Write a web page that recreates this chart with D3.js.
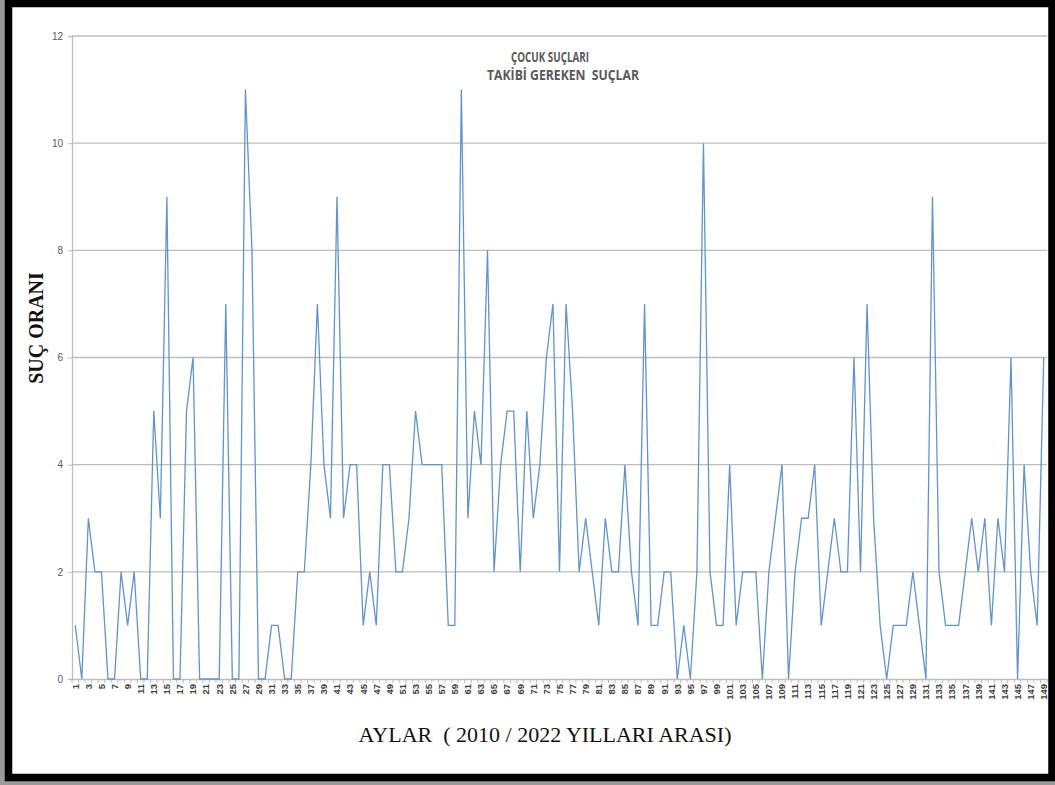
<!DOCTYPE html>
<html lang="tr">
<head>
<meta charset="utf-8">
<script src="https://cdn.jsdelivr.net/npm/d3@7"></script>
<style>
  body { margin: 0; background: #fff; }
  svg { display: block; }
</style>
</head>
<body>
<script>
  // monthly values, months 1..149
  var values = [1, 0, 3, 2, 2, 0, 0, 2, 1, 2,
    0, 0, 5, 3, 9, 0, 0, 5, 6, 0,
    0, 0, 0, 7, 0, 0, 11, 8, 0, 0,
    1, 1, 0, 0, 2, 2, 4, 7, 4, 3,
    9, 3, 4, 4, 1, 2, 1, 4, 4, 2,
    2, 3, 5, 4, 4, 4, 4, 1, 1, 11,
    3, 5, 4, 8, 2, 4, 5, 5, 2, 5,
    3, 4, 6, 7, 2, 7, 5, 2, 3, 2,
    1, 3, 2, 2, 4, 2, 1, 7, 1, 1,
    2, 2, 0, 1, 0, 2, 10, 2, 1, 1,
    4, 1, 2, 2, 2, 0, 2, 3, 4, 0,
    2, 3, 3, 4, 1, 2, 3, 2, 2, 6,
    2, 7, 3, 1, 0, 1, 1, 1, 2, 1,
    0, 9, 2, 1, 1, 1, 2, 3, 2, 3,
    1, 3, 2, 6, 0, 4, 2, 1, 6];
  var months = d3.range(1, values.length + 1);
  var monthLabels = months.filter(function(d) { return d % 2 === 1; });
  var yTicks = [0, 2, 4, 6, 8, 10, 12];
  var titleLines = ["ÇOCUK SUÇLARI", "TAKİBİ GEREKEN  SUÇLAR"];
  var xTitle = "AYLAR  ( 2010 / 2022 YILLARI ARASI)";
  var yTitle = "SUÇ ORANI";

  var w = 1055, h = 785;
  var plot = { left: 72, right: 1047, top: 36, bottom: 679 };
  var gridColor = "#bdbdbd";
  var labelColor = "#595959";

  var svg = d3.select("body").append("svg")
    .attr("width", w)
    .attr("height", h);

  // gray strip under the frame, then the frame
  svg.append("rect")
    .attr("x", 0).attr("y", 0).attr("width", w).attr("height", h)
    .attr("fill", "#9a9a9a");
  svg.append("rect")
    .attr("x", 8.5).attr("y", 3.5).attr("width", 1043.5).attr("height", 774)
    .attr("fill", "#fff")
    .attr("stroke", "#000")
    .attr("stroke-width", 7.5);

  var x = d3.scaleBand()
    .domain(months)
    .range([plot.left, plot.right]);
  var y = d3.scaleLinear()
    .domain([0, 12])
    .range([plot.bottom, plot.top]);

  // gridlines
  svg.append("g")
    .selectAll("line")
    .data(yTicks.filter(function(d) { return d > 0; }))
    .enter()
    .append("line")
    .attr("x1", plot.left)
    .attr("x2", plot.right)
    .attr("y1", function(d) { return y(d); })
    .attr("y2", function(d) { return y(d); })
    .attr("stroke", gridColor)
    .attr("stroke-width", 1.3);

  // y axis
  var yAxis = d3.axisLeft(y).tickValues(yTicks).tickSize(4).tickPadding(5);
  var gy = svg.append("g")
    .attr("transform", "translate(" + plot.left + ",0)")
    .call(yAxis);
  gy.select(".domain").attr("stroke", gridColor).attr("stroke-width", 1.3);
  gy.selectAll(".tick line").attr("stroke", gridColor);
  gy.selectAll(".tick text")
    .attr("fill", labelColor)
    .style("font-family", "'Liberation Sans Narrow', 'Liberation Sans', sans-serif")
    .style("font-size", "10px");

  // x axis: labels on odd months, ticks at every category edge
  var xAxis = d3.axisBottom(x).tickValues(monthLabels).tickSize(0).tickPadding(4);
  var gx = svg.append("g")
    .attr("transform", "translate(0," + plot.bottom + ")")
    .call(xAxis);
  gx.select(".domain").attr("stroke", gridColor).attr("stroke-width", 1.3);
  gx.selectAll(".tick text")
    .attr("fill", "#404040")
    .attr("transform", "rotate(-90)")
    .attr("text-anchor", "end")
    .attr("dy", "0.35em")
    .attr("x", -5)
    .attr("y", 0)
    .style("font-family", "'Liberation Sans', sans-serif")
    .style("font-weight", "bold")
    .style("font-size", "9.5px");
  gx.append("g")
    .selectAll("line")
    .data(months.concat([null]))
    .enter()
    .append("line")
    .attr("x1", function(d) { return d === null ? plot.right : x(d); })
    .attr("x2", function(d) { return d === null ? plot.right : x(d); })
    .attr("y1", 0)
    .attr("y2", 4)
    .attr("stroke", gridColor);

  // line
  var line = d3.line()
    .x(function(d, i) { return x(months[i]) + x.bandwidth() / 2; })
    .y(function(d) { return y(d); });
  svg.append("path")
    .datum(values)
    .attr("d", line)
    .attr("fill", "none")
    .attr("stroke", "#6393c8")
    .attr("stroke-width", 1.3)
    .attr("stroke-linejoin", "miter");

  // chart title
  svg.append("text")
    .attr("x", 550).attr("y", 62)
    .attr("text-anchor", "middle")
    .attr("fill", labelColor)
    .style("font-family", "'Open Sans', sans-serif")
    .style("font-weight", "bold")
    .style("font-size", "14px")
    .attr("textLength", 78).attr("lengthAdjust", "spacingAndGlyphs")
    .text(titleLines[0]);
  svg.append("text")
    .attr("x", 563).attr("y", 80)
    .attr("text-anchor", "middle")
    .attr("fill", labelColor)
    .style("font-family", "'Open Sans', sans-serif")
    .style("font-weight", "bold")
    .style("font-size", "14px")
    .style("white-space", "pre")
    .attr("textLength", 152).attr("lengthAdjust", "spacingAndGlyphs")
    .text(titleLines[1]);

  // axis titles
  svg.append("text")
    .attr("x", 545).attr("y", 742)
    .attr("text-anchor", "middle")
    .attr("fill", "#111")
    .style("font-family", "'Liberation Serif', 'Times New Roman', serif")
    .style("font-size", "22px")
    .style("white-space", "pre")
    .text(xTitle);
  svg.append("text")
    .attr("transform", "translate(43,328) rotate(-90)")
    .attr("text-anchor", "middle")
    .attr("fill", "#111")
    .style("font-family", "'Liberation Serif', 'Times New Roman', serif")
    .style("font-weight", "bold")
    .style("font-size", "20px")
    .text(yTitle);
</script>
</body>
</html>
